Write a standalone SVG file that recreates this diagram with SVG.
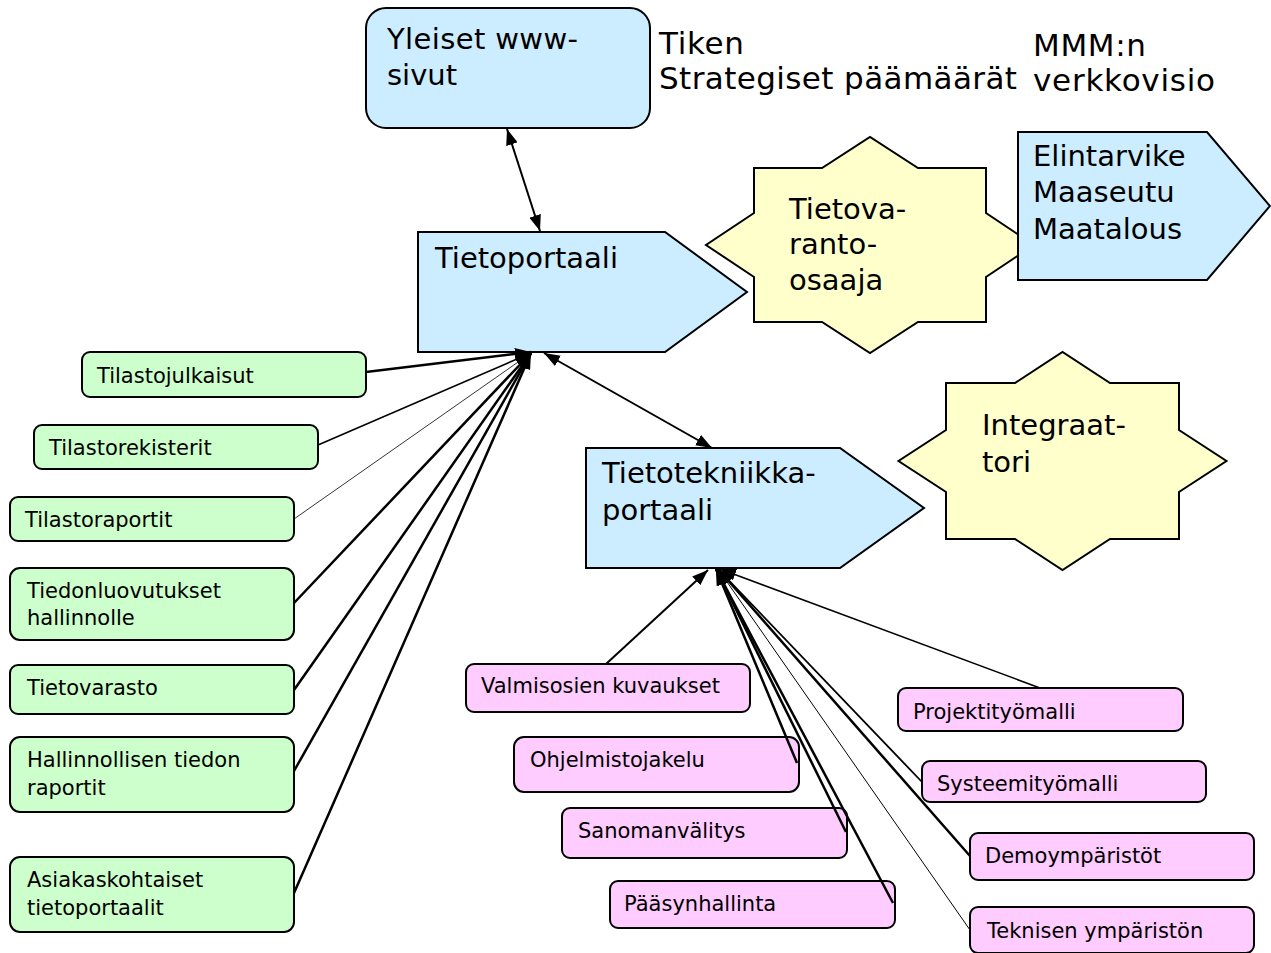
<svg xmlns="http://www.w3.org/2000/svg" width="1271" height="953" viewBox="0 0 1271 953">
  <defs>
    <marker id="arr" viewBox="0 0 16 12" refX="16" refY="6" markerWidth="16" markerHeight="12" markerUnits="userSpaceOnUse" orient="auto-start-reverse">
      <path d="M0,0 L16,6 L0,12 z" fill="#000"/>
    </marker>
    <style>
      text { font-family: "DejaVu Sans", Verdana, sans-serif; fill: #000; }
      .top { font-size: 31px; }
      .lg { font-size: 29px; }
      .sm { font-size: 21px; }
      .blue { fill: #CCECFF; stroke: #000; stroke-width: 2; }
      .star { fill: #FFFFCC; stroke: #000; stroke-width: 2; }
      .green { fill: #CCFFCC; stroke: #000; stroke-width: 2; }
      .pink { fill: #FFCCFF; stroke: #000; stroke-width: 2; }
      .c { fill: none; stroke: #000; marker-end: url(#arr); }
      .both { marker-start: url(#arr); }
    </style>
  </defs>
  <rect width="1271" height="953" fill="#fff"/>

  <!-- free-standing headings -->
  <g id="tiken">
    <text class="top" x="659" y="54" textLength="85" lengthAdjust="spacing">Tiken</text>
    <text class="top" x="659" y="89" textLength="358" lengthAdjust="spacing">Strategiset päämäärät</text>
  </g>
  <g id="mmm">
    <text class="top" x="1033" y="56" textLength="113" lengthAdjust="spacing">MMM:n</text>
    <text class="top" x="1033" y="91" textLength="182" lengthAdjust="spacing">verkkovisio</text>
  </g>

  <!-- portals and roles -->
  <g id="yleiset">
    <rect class="blue" x="366" y="8" width="284" height="120" rx="20"/>
    <text class="lg" x="387" y="49" textLength="191" lengthAdjust="spacing">Yleiset www-</text>
    <text class="lg" x="387" y="85">sivut</text>
  </g>
  <g id="tietoportaali">
    <polygon class="blue" points="418,232 665,232 747,292 665,352 418,352"/>
    <text class="lg" x="435" y="268">Tietoportaali</text>
  </g>
  <g id="tietovarantoosaaja">
    <polygon class="star" points="754,168 822,168 870,137 918,168 986,168 986,213 1034,245 986,277 986,322 918,322 870,353 822,322 754,322 754,277 706,245 754,213"/>
    <text class="lg" x="789" y="219">Tietova-</text>
    <text class="lg" x="789" y="254">ranto-</text>
    <text class="lg" x="789" y="290">osaaja</text>
  </g>
  <g id="elintarvike">
    <polygon class="blue" points="1018,132 1207,132 1270,206 1207,280 1018,280"/>
    <text class="lg" x="1033" y="166">Elintarvike</text>
    <text class="lg" x="1033" y="202">Maaseutu</text>
    <text class="lg" x="1033" y="239">Maatalous</text>
  </g>
  <g id="integraattori">
    <polygon class="star" points="946,383 1015,383 1062.5,352 1110,383 1179,383 1179,430 1226.5,461 1179,492 1179,539 1110,539 1062.5,570 1015,539 946,539 946,492 898.5,461 946,430"/>
    <text class="lg" x="982" y="435">Integraat-</text>
    <text class="lg" x="982" y="472">tori</text>
  </g>
  <g id="tietotekniikkaportaali">
    <polygon class="blue" points="586,448 840,448 924,508 840,568 586,568"/>
    <text class="lg" x="602" y="483">Tietotekniikka-</text>
    <text class="lg" x="602" y="520">portaali</text>
  </g>

  <!-- statistics and information services -->
  <g id="tilastojulkaisut">
    <rect class="green" x="82" y="352" width="284" height="45" rx="8"/>
    <text class="sm" x="97" y="383">Tilastojulkaisut</text>
  </g>
  <g id="tilastorekisterit">
    <rect class="green" x="34" y="425" width="284" height="44" rx="8"/>
    <text class="sm" x="49" y="455">Tilastorekisterit</text>
  </g>
  <g id="tilastoraportit">
    <rect class="green" x="10" y="497" width="284" height="44" rx="8"/>
    <text class="sm" x="25" y="527">Tilastoraportit</text>
  </g>
  <g id="tiedonluovutukset">
    <rect class="green" x="10" y="568" width="284" height="72" rx="10"/>
    <text class="sm" x="27" y="598">Tiedonluovutukset</text>
    <text class="sm" x="27" y="625">hallinnolle</text>
  </g>
  <g id="tietovarasto">
    <rect class="green" x="10" y="665" width="284" height="49" rx="8"/>
    <text class="sm" x="27" y="695">Tietovarasto</text>
  </g>
  <g id="hallinnollisen">
    <rect class="green" x="10" y="737" width="284" height="75" rx="10"/>
    <text class="sm" x="27" y="767">Hallinnollisen tiedon</text>
    <text class="sm" x="27" y="795">raportit</text>
  </g>
  <g id="asiakaskohtaiset">
    <rect class="green" x="10" y="857" width="284" height="75" rx="10"/>
    <text class="sm" x="27" y="887">Asiakaskohtaiset</text>
    <text class="sm" x="27" y="915">tietoportaalit</text>
  </g>

  <!-- IT services -->
  <g id="valmisosien">
    <rect class="pink" x="466" y="664" width="284" height="48" rx="8"/>
    <text class="sm" x="481" y="693">Valmisosien kuvaukset</text>
  </g>
  <g id="ohjelmistojakelu">
    <rect class="pink" x="514" y="737" width="285" height="55" rx="10"/>
    <text class="sm" x="530" y="767">Ohjelmistojakelu</text>
  </g>
  <g id="sanomanvalitys">
    <rect class="pink" x="562" y="808" width="285" height="50" rx="8"/>
    <text class="sm" x="578" y="838">Sanomanvälitys</text>
  </g>
  <g id="paasynhallinta">
    <rect class="pink" x="610" y="881" width="285" height="47" rx="8"/>
    <text class="sm" x="624" y="911">Pääsynhallinta</text>
  </g>
  <g id="projektityomalli">
    <rect class="pink" x="898" y="688" width="285" height="43" rx="8"/>
    <text class="sm" x="913" y="719">Projektityömalli</text>
  </g>
  <g id="systeemityomalli">
    <rect class="pink" x="922" y="761" width="284" height="41" rx="8"/>
    <text class="sm" x="937" y="791">Systeemityömalli</text>
  </g>
  <g id="demoymparistot">
    <rect class="pink" x="970" y="833" width="284" height="47" rx="8"/>
    <text class="sm" x="985" y="863">Demoympäristöt</text>
  </g>
  <g id="teknisen">
    <rect class="pink" x="970" y="907" width="284" height="46" rx="8"/>
    <text class="sm" x="987" y="938">Teknisen ympäristön</text>
  </g>

  <!-- connectors -->
  <g id="connectors">
    <line class="c both" x1="507" y1="129" x2="540" y2="231" stroke-width="2"/>
    <line class="c both" x1="544" y1="353" x2="712" y2="448" stroke-width="2"/>

    <line class="c" x1="366" y1="372" x2="531" y2="352" stroke-width="2.5"/>
    <line class="c" x1="318" y1="445" x2="531" y2="353" stroke-width="1.5"/>
    <line class="c" x1="294" y1="519" x2="531" y2="353" stroke-width="0.8"/>
    <line class="c" x1="294" y1="603" x2="531" y2="353" stroke-width="2.5"/>
    <line class="c" x1="294" y1="690" x2="531" y2="353" stroke-width="2.5"/>
    <line class="c" x1="294" y1="771" x2="531" y2="353" stroke-width="2.5"/>
    <line class="c" x1="294" y1="893" x2="531" y2="353" stroke-width="2.5"/>

    <line class="c" x1="606" y1="664" x2="708" y2="570" stroke-width="2"/>
    <line class="c" x1="797" y1="763" x2="716" y2="569" stroke-width="2.5"/>
    <line class="c" x1="846" y1="832" x2="716" y2="569" stroke-width="2.5"/>
    <line class="c" x1="893" y1="903" x2="716" y2="569" stroke-width="2.5"/>
    <line class="c" x1="1040" y1="688" x2="720" y2="569" stroke-width="1.5"/>
    <line class="c" x1="922" y1="782" x2="718" y2="569" stroke-width="1.8"/>
    <line class="c" x1="970" y1="856" x2="718" y2="569" stroke-width="2.5"/>
    <line class="c" x1="970" y1="930" x2="718" y2="569" stroke-width="1"/>
  </g>
</svg>
